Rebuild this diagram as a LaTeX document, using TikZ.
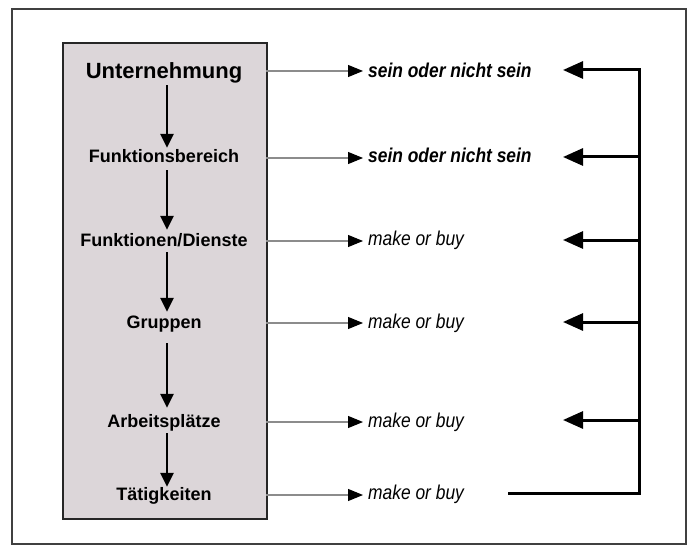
\documentclass[tikz,border=0pt]{standalone}
\usepackage{fontspec}
\setmainfont{Liberation Sans}
\newfontfamily\narrowsans[FakeStretch=0.87]{Liberation Sans}
\usetikzlibrary{arrows.meta}
\definecolor{stackfill}{HTML}{DCD6D9}
\begin{document}
\begin{tikzpicture}[x=1pt,y=-1pt,
  level/.style={anchor=base, inner sep=0pt, text height=13pt, text depth=4pt,
    font=\bfseries\fontsize{18}{21}\selectfont},
  top level/.style={level, text height=15.5pt, text depth=4.5pt,
    font=\bfseries\fontsize{22}{25}\selectfont},
  choice/.style={anchor=base west, inner sep=0pt,
    font=\narrowsans\itshape\fontsize{20}{23}\selectfont},
  strong choice/.style={choice, font=\narrowsans\bfseries\itshape\fontsize{20}{23}\selectfont},
  down/.style={line width=2.5pt, -{Triangle[length=14pt,width=13pt]}},
  lead/.style={draw=black!45, line width=1.1pt,
    -{Triangle[length=15pt,width=12pt,color=black]}, shorten >=5pt},
  back/.style={line width=3pt, -{Triangle[length=20pt,width=17pt]}},
]
\useasboundingbox (0,0) rectangle (687,545);

% outer frame
\draw[line width=1.8pt, draw=black!75] (12,9) rectangle (686,544);

% shaded column holding the hierarchy
\node[draw=black!85, line width=1.8pt, fill=stackfill, anchor=north west,
  minimum width=204pt, minimum height=476pt, inner sep=0pt] (stack) at (62,42) {};

% hierarchy levels
\node[top level] (u) at (164,79)  {Unternehmung};
\node[level]     (f) at (164,163) {Funktionsbereich};
\node[level]     (d) at (164,246) {Funktionen/Dienste};
\node[level]     (g) at (164,328) {Gruppen};
\node[level]     (a) at (164,427) {Arbeitsplätze};
\node[level]     (t) at (164,500) {Tätigkeiten};

% downward arrows between the levels
\draw[down, shorten <=1.5pt, shorten >=2pt] ([xshift=3pt]u.south) -- ([xshift=3pt]f.north);
\draw[down, shorten <=3pt,   shorten >=3pt] ([xshift=3pt]f.south) -- ([xshift=3pt]d.north);
\draw[down, shorten <=2pt,   shorten >=3pt] ([xshift=3pt]d.south) -- ([xshift=3pt]g.north);
\draw[down, shorten <=11pt,  shorten >=6pt] ([xshift=3pt]g.south) -- ([xshift=3pt]a.north);
\draw[down, shorten <=2pt,   shorten >=0pt] ([xshift=3pt]a.south) -- ([xshift=3pt]t.north);

% decisions per level
\node[strong choice] (c1) at (368,78)  {sein oder nicht sein};
\node[strong choice] (c2) at (368,163) {sein oder nicht sein};
\node[choice]        (c3) at (368,245) {make or buy};
\node[choice]        (c4) at (368,328) {make or buy};
\node[choice]        (c5) at (368,427) {make or buy};
\node[choice]        (c6) at (368,499) {make or buy};

% leader lines from the column to the decisions
\coordinate (l1) at (266,71);
\coordinate (l2) at (266,158);
\coordinate (l3) at (266,241);
\coordinate (l4) at (266,323);
\coordinate (l5) at (266,422);
\coordinate (l6) at (266,495);
\draw[lead] (l1) -- (l1 -| c1.west);
\draw[lead] (l2) -- (l2 -| c2.west);
\draw[lead] (l3) -- (l3 -| c3.west);
\draw[lead] (l4) -- (l4 -| c4.west);
\draw[lead] (l5) -- (l5 -| c5.west);
\draw[lead] (l6) -- (l6 -| c6.west);

% feedback bracket on the right
\coordinate (r1) at (639,70);
\coordinate (r2) at (639,157);
\coordinate (r3) at (639,240);
\coordinate (r4) at (639,322);
\coordinate (r5) at (639,420);
\coordinate (r6) at (639,493);
\coordinate (e1) at (563,70);
\coordinate (e2) at (563,157);
\coordinate (e3) at (563,240);
\coordinate (e4) at (563,322);
\coordinate (e5) at (563,420);
\coordinate (e6) at (508,493);
\draw[line width=3pt, line join=miter] (e6) -- (r6) -- ([yshift=-1.5pt]r1);
\draw[back] ([xshift=1.5pt]r1) -- (e1);
\draw[back] (r2) -- (e2);
\draw[back] (r3) -- (e3);
\draw[back] (r4) -- (e4);
\draw[back] (r5) -- (e5);
\end{tikzpicture}
\end{document}
